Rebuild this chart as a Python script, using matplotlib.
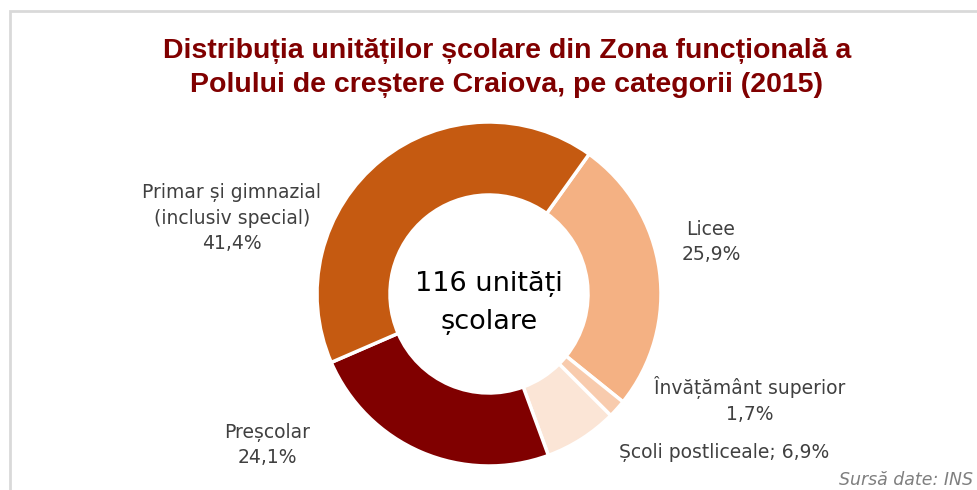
import matplotlib
matplotlib.use("Agg")
import matplotlib.pyplot as plt

# categorii si ponderi (%) - ordinea in sensul acelor de ceasornic
categorii = ["Licee", "Învățământ superior", "Școli postliceale", "Preșcolar",
             "Primar și gimnazial\n(inclusiv special)"]
procente = [25.9, 1.7, 6.9, 24.1, 41.4]
culori = ["#F4B183", "#F8CBAD", "#FBE5D6", "#800000", "#C55A11"]
total_unitati = 116

titlu = ("Distribuția unităților școlare din Zona funcțională a\n"
         "Polului de creștere Craiova, pe categorii (2015)")
sursa = "Sursă date: INS"


def fmt(v):
    return f"{v:.1f}".replace(".", ",") + "%"


W, H = 978, 490
fig = plt.figure(figsize=(W / 100, H / 100), dpi=100)
ax = fig.add_axes([0, 0, 1, 1])

# chenarul graficului
ax.plot([10, 10, W + 5], [-5, H - 11, H - 11], color="#d9d9d9", lw=2,
        solid_joinstyle="miter")

cx, cy, r = 489, H - 294, 172
ax.pie(procente, colors=culori, startangle=54.4, counterclock=False,
       center=(cx, cy), radius=r, frame=True,
       wedgeprops=dict(width=r - 99, edgecolor="white", linewidth=2.5))
ax.set_xlim(0, W)
ax.set_ylim(0, H)
ax.set_aspect("equal")
ax.axis("off")

ax.text(cx, H - 303, f"{total_unitati} unități\nșcolare", ha="center",
        va="center", fontsize=19.5, color="black", linespacing=1.58)

# etichete
gri = "#404040"
et = dict(ha="center", va="center", fontsize=13.5, color=gri, linespacing=1.45)
ax.text(711, H - 242, f"{categorii[0]}\n{fmt(procente[0])}", **et)
ax.text(750, H - 400, f"{categorii[1]}\n{fmt(procente[1])}", **et)
ax.text(724, H - 452, f"{categorii[2]}; {fmt(procente[2])}", **et)
ax.text(267, H - 445, f"{categorii[3]}\n{fmt(procente[3])}", **et)
ax.text(232, H - 218, f"{categorii[4]}\n{fmt(procente[4])}", **et)

ax.text(507, H - 68, titlu, ha="center", va="center", fontsize=20.5,
        fontweight="bold", color="#800000", family="Liberation Sans",
        linespacing=1.42)

ax.text(973, H - 480, sursa, ha="right", va="center", fontsize=12.5,
        style="italic", color="#7f7f7f")

fig.savefig("out.png", dpi=100)
